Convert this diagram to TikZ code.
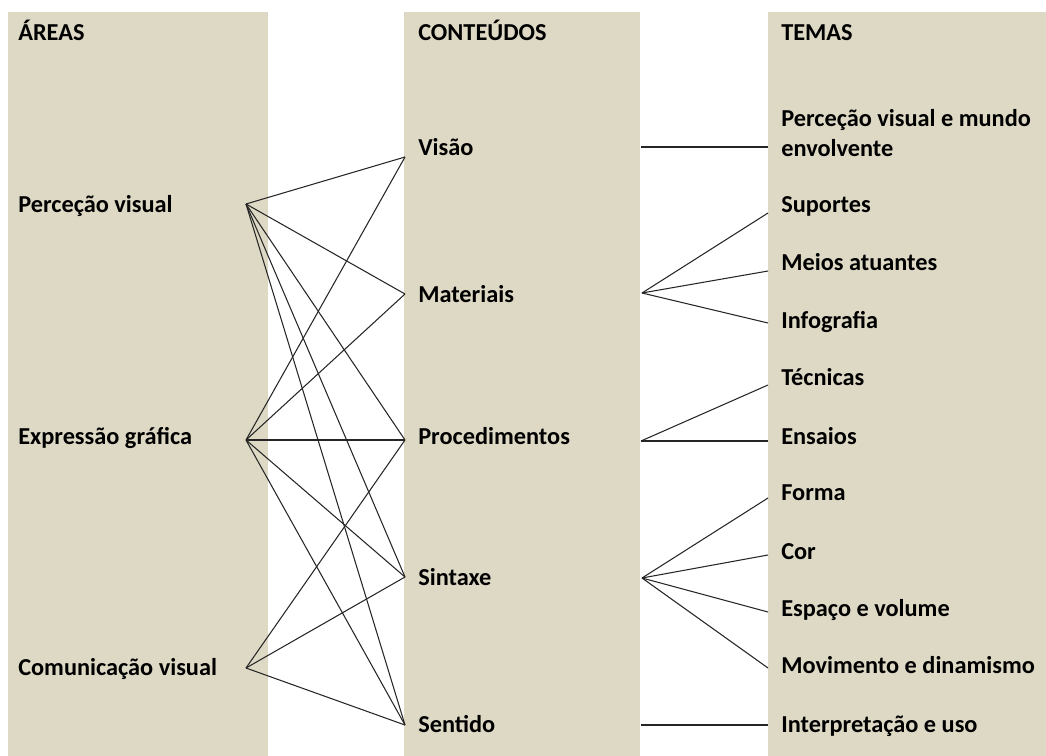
\documentclass[tikz,border=0pt]{standalone}
\usepackage{fontspec}
\setmainfont{Carlito}
\definecolor{colbg}{HTML}{DDD9C4}

\def\yTop{12}
\def\yBot{756}

\begin{document}
\begin{tikzpicture}[x=0.025cm, y=-0.025cm,
    txt/.style={anchor=base west, inner sep=0, align=left, text=black,
      font=\bfseries\fontsize{17.3}{21}\selectfont},
    conn/.style={line width=0.75pt, black!85}]
      \useasboundingbox (0,0) rectangle (1046,756);
      \fill[colbg] (8,\yTop) rectangle (268,\yBot);
      \fill[colbg] (404,\yTop) rectangle (640,\yBot);
      \fill[colbg] (768,\yTop) rectangle (1046,\yBot);

      \node[txt] (hAreas) at (18,40) {ÁREAS};
      \node[txt] (hConteudos) at (418,40) {CONTEÚDOS};
      \node[txt] (hTemas) at (781,40) {TEMAS};

      \node[txt] (aPercecao) at (18,212) {Perceção visual};
      \node[txt] (aExpressao) at (18,444) {Expressão gráfica};
      \node[txt] (aComunicacao) at (18,675) {Comunicação visual};

      \node[txt] (cVisao) at (418,155) {Visão};
      \node[txt] (cMateriais) at (418,302) {Materiais};
      \node[txt] (cProcedimentos) at (418,444) {Procedimentos};
      \node[txt] (cSintaxe) at (418,585) {Sintaxe};
      \node[txt] (cSentido) at (418,732) {Sentido};

      \node[txt, anchor=west] (tMundo) at (781,133) {Perceção visual e mundo\\envolvente};
      \node[txt] (tSuportes) at (781,212) {Suportes};
      \node[txt] (tMeios) at (781,270) {Meios atuantes};
      \node[txt] (tInfografia) at (781,328) {Infografia};
      \node[txt] (tTecnicas) at (781,385) {Técnicas};
      \node[txt] (tEnsaios) at (781,444) {Ensaios};
      \node[txt] (tForma) at (781,500) {Forma};
      \node[txt] (tCor) at (781,559) {Cor};
      \node[txt] (tEspaco) at (781,616) {Espaço e volume};
      \node[txt] (tMovimento) at (781,673) {Movimento e dinamismo};
      \node[txt] (tInterpretacao) at (781,732) {Interpretação e uso};

      % pontos de ligacao
      \coordinate (pPercecao) at (246,204);
      \coordinate (pExpressao) at (246,440);
      \coordinate (pComunicacao) at (246,668);
      \coordinate (inVisao) at (405,157);
      \coordinate (inMateriais) at (405,294);
      \coordinate (inProcedimentos) at (405,440);
      \coordinate (inSintaxe) at (405,577);
      \coordinate (inSentido) at (405,725);
      \coordinate (outVisao) at (641,147);
      \coordinate (outMateriais) at (642,293);
      \coordinate (outProcedimentos) at (641,441);
      \coordinate (outSintaxe) at (642,578);
      \coordinate (outSentido) at (641,725);
      \coordinate (pMundo) at (768,147);
      \coordinate (pSuportes) at (768,213);
      \coordinate (pMeios) at (768,271);
      \coordinate (pInfografia) at (768,323);
      \coordinate (pTecnicas) at (768,385);
      \coordinate (pEnsaios) at (768,441);
      \coordinate (pForma) at (768,498);
      \coordinate (pCor) at (768,555);
      \coordinate (pEspaco) at (768,612);
      \coordinate (pMovimento) at (768,668);
      \coordinate (pInterpretacao) at (768,725);

      \foreach \c in {Visao,Materiais,Procedimentos,Sintaxe,Sentido} {
          \draw[conn] (pPercecao) -- (in\c);
          \draw[conn] (pExpressao) -- (in\c);
      }
      \foreach \c in {Procedimentos,Sintaxe,Sentido} {
          \draw[conn] (pComunicacao) -- (in\c);
      }
      \foreach \c/\t in {Visao/Mundo, Materiais/Suportes, Materiais/Meios,
          Materiais/Infografia, Procedimentos/Tecnicas, Procedimentos/Ensaios,
          Sintaxe/Forma, Sintaxe/Cor, Sintaxe/Espaco, Sintaxe/Movimento,
          Sentido/Interpretacao} {
          \draw[conn] (out\c) -- (p\t);
      }
    \end{tikzpicture}
\end{document}
